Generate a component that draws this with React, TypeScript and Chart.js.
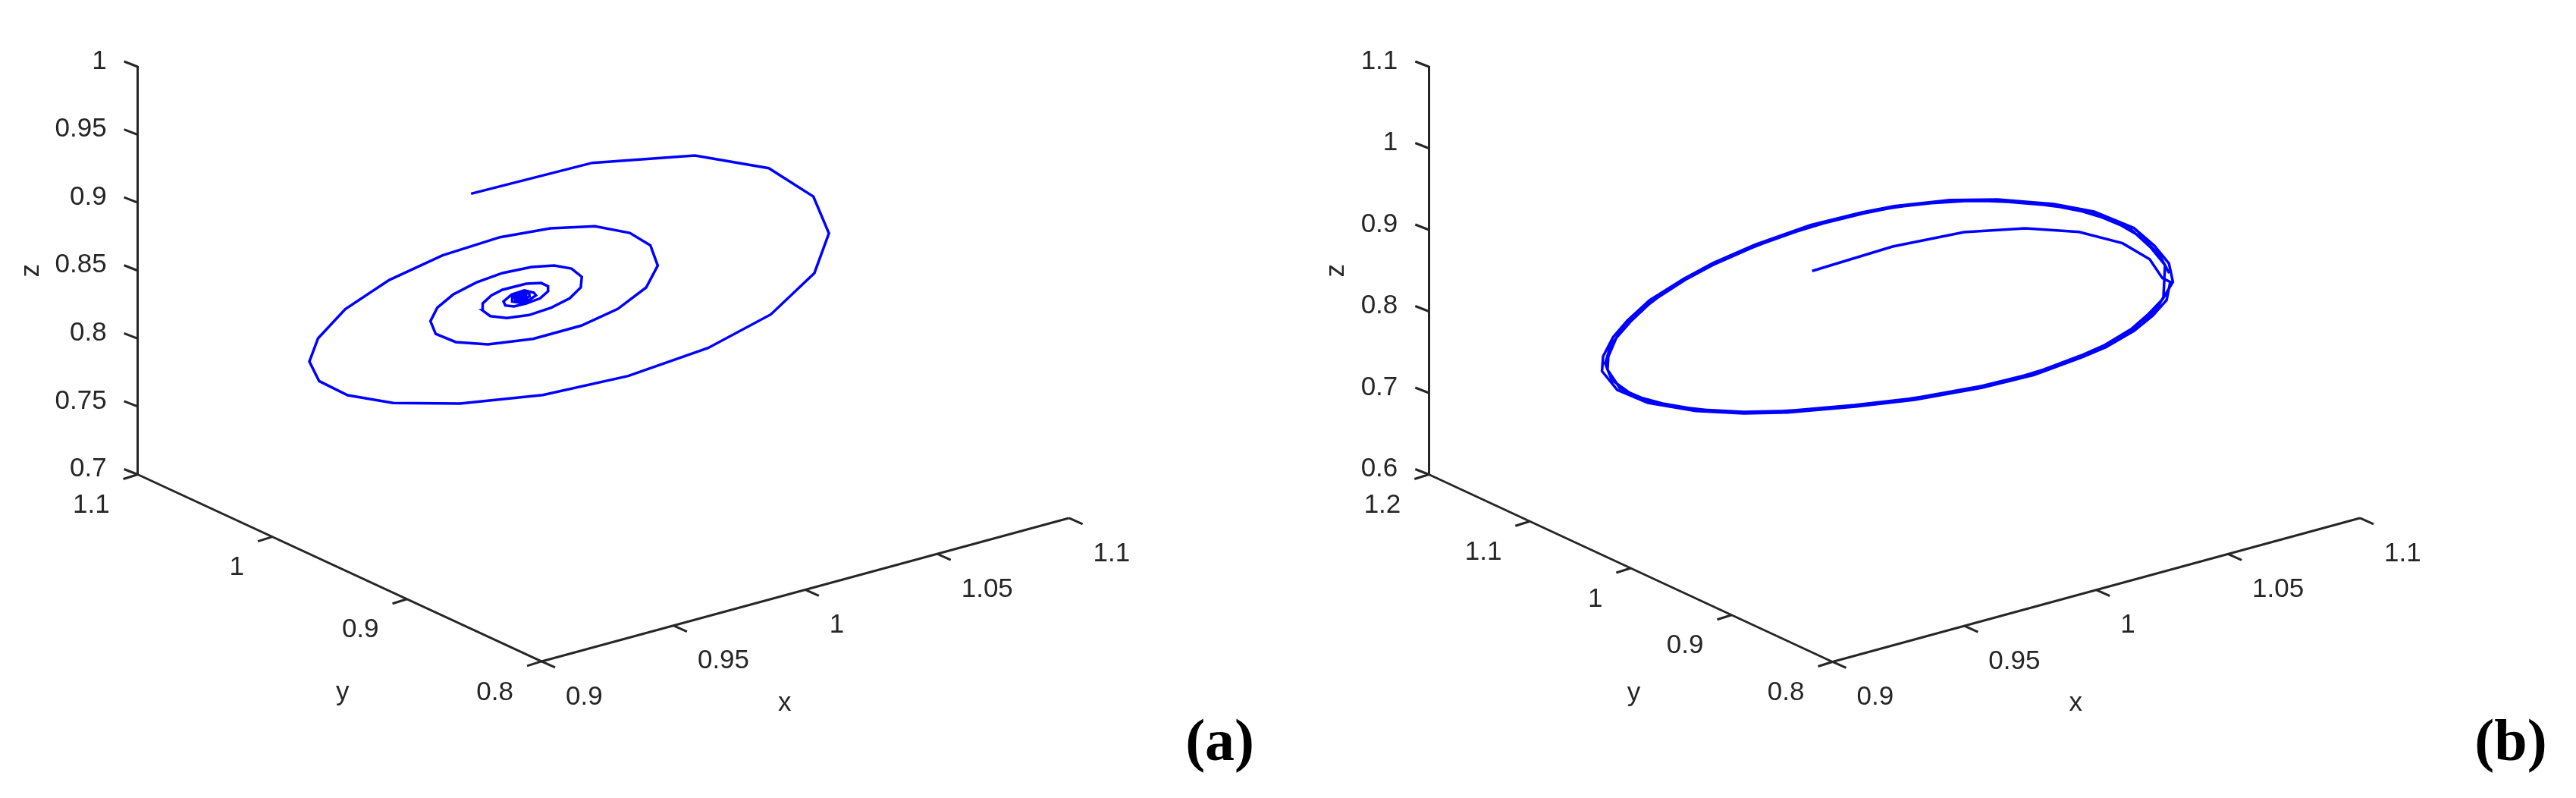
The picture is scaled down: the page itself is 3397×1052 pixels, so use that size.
import React, { useEffect, useRef } from "react";
import { Chart, registerables } from "chart.js";

Chart.register(...registerables);

// ---- Panel (a) ----
const aXTicks = [0.9, 0.95, 1, 1.05, 1.1];
const aYTicks = [1.1, 1, 0.9, 0.8];
const aZTicks = [0.7, 0.75, 0.8, 0.85, 0.9, 0.95, 1];
// trajectory, projected on the picture plane: horizontal in x units, vertical in z units
const aPathU = [
  0.8733, 0.9193, 0.9582, 0.9862, 1.0031, 1.009, 1.0035, 0.987, 0.9632, 0.9329, 0.9005, 0.8691, 0.8438, 0.8265, 0.8157, 0.812, 0.8153, 0.8256, 0.8423, 0.8625, 0.8843, 0.9034, 0.9203, 0.9335, 0.9413, 0.9441, 0.9397, 0.9289, 0.9151, 0.8968, 0.8797, 0.8675, 0.8599, 0.8579, 0.8605, 0.8665, 0.8753, 0.8852, 0.8962, 0.9048, 0.9114, 0.9153, 0.9149, 0.9107, 0.9037, 0.8953, 0.8869, 0.8806, 0.8776, 0.8777, 0.881, 0.8852, 0.8942, 0.8999, 0.9025, 0.9025, 0.8995, 0.8942, 0.8896, 0.8863, 0.8856, 0.8887, 0.8935, 0.8971, 0.8979, 0.8955, 0.8918, 0.8889, 0.8889, 0.8918, 0.8953, 0.8955, 0.8929, 0.8902, 0.8897, 0.8922, 0.8942, 0.8939, 0.8915, 0.8905, 0.8926, 0.8931, 0.8918,
];
const aPathV = [
  0.9066, 0.9293, 0.9347, 0.9254, 0.9045, 0.8774, 0.8482, 0.8178, 0.7931, 0.7725, 0.7585, 0.7522, 0.7526, 0.7583, 0.7687, 0.7831, 0.8002, 0.8216, 0.8431, 0.8612, 0.8746, 0.8811, 0.8826, 0.8777, 0.8686, 0.8537, 0.8376, 0.8218, 0.8095, 0.7998, 0.7957, 0.7974, 0.8035, 0.8128, 0.8227, 0.8324, 0.8413, 0.8482, 0.8526, 0.8537, 0.8515, 0.8454, 0.8376, 0.8296, 0.8227, 0.8173, 0.8151, 0.8165, 0.8208, 0.8258, 0.8318, 0.8359, 0.8404, 0.8409, 0.8385, 0.8348, 0.8296, 0.8258, 0.8236, 0.8244, 0.8273, 0.8324, 0.8355, 0.8338, 0.8318, 0.8286, 0.8264, 0.8273, 0.8307, 0.834, 0.8337, 0.8311, 0.8281, 0.8281, 0.8307, 0.8329, 0.8322, 0.8299, 0.8288, 0.8303, 0.8318, 0.8307, 0.8303,
];

// ---- Panel (b) ----
const bXTicks = [0.9, 0.95, 1, 1.05, 1.1];
const bYTicks = [1.2, 1.1, 1, 0.9, 0.8];
const bZTicks = [0.6, 0.7, 0.8, 0.9, 1, 1.1];
const bPathU = [
  0.8923, 0.9228, 0.9499, 0.9732, 0.9935, 1.01, 1.0203, 1.0251,
  1.0281, 1.0267, 1.0215, 1.0144, 1.0037, 0.9945, 0.9764, 0.9568, 0.9312, 0.9087, 0.883, 0.8664, 0.8482, 0.83, 0.8184, 0.8126, 0.813, 0.8168, 0.8222, 0.8306, 0.8435, 0.8548, 0.8706, 0.8917, 0.9112, 0.9234, 0.9445, 0.9627, 0.9839, 0.9992, 1.0143, 1.0221, 1.0276,
  1.0291, 1.0252, 1.0198, 1.0132, 1.0028, 0.994, 0.9761, 0.9565, 0.9309, 0.9084, 0.883, 0.8664, 0.8485, 0.8306, 0.8196, 0.8147, 0.815, 0.818, 0.8234, 0.8315, 0.8441, 0.8554, 0.8712, 0.8923, 0.9118, 0.9237, 0.9448, 0.9627, 0.9836, 0.9983, 1.0133, 1.0206, 1.0261, 1.0258, 1.0255,
  1.0233, 1.0172, 1.0085, 0.9988, 0.9853, 0.9665, 0.9439, 0.9198, 0.8958, 0.8747, 0.8574, 0.8393, 0.8246, 0.8163, 0.8138, 0.8157, 0.8201, 0.827, 0.8374, 0.8494, 0.863, 0.8814, 0.9017, 0.9175, 0.9341, 0.9537, 0.9732, 0.9913, 1.0063, 1.0176, 1.0241, 1.0277,
];
const bPathV = [
  0.8495, 0.8795, 0.8972, 0.9019, 0.8975, 0.8836, 0.864, 0.8408,
  0.8361, 0.8138, 0.7949, 0.7763, 0.7561, 0.7437, 0.722, 0.7065, 0.6916, 0.6833, 0.6761, 0.6749, 0.678, 0.6879, 0.7037, 0.7267, 0.7446, 0.7685, 0.7887, 0.8135, 0.8398, 0.8594, 0.8817, 0.9059, 0.9214, 0.9291, 0.9366, 0.9372, 0.9316, 0.9223, 0.9022, 0.8805, 0.8588,
  0.8361, 0.815, 0.7967, 0.7781, 0.758, 0.7456, 0.7239, 0.7084, 0.6935, 0.6851, 0.678, 0.6767, 0.6798, 0.6898, 0.7049, 0.7285, 0.7446, 0.7673, 0.7874, 0.8122, 0.8386, 0.8581, 0.8805, 0.9047, 0.9202, 0.9279, 0.9353, 0.9353, 0.9298, 0.9205, 0.9003, 0.8786, 0.8569, 0.8361, 0.8175,
  0.8051, 0.7865, 0.7671, 0.7508, 0.7338, 0.7152, 0.7, 0.6883, 0.6806, 0.6764, 0.6773, 0.6838, 0.6965, 0.716, 0.7361, 0.7562, 0.7779, 0.8004, 0.826, 0.8489, 0.8699, 0.8932, 0.913, 0.9246, 0.9322, 0.9361, 0.9334, 0.926, 0.9113, 0.8903, 0.8686, 0.8469,
];

const INK = "#262626";
const BLUE = "#0000ff";
const FONT = '"Liberation Sans", Arial, sans-serif';
const FONT_SIZE = 35;

type Panel = {
  letter: string;
  left: number;
  width: number;
  areaLeft: number;
  areaRight: number;
  titlePad: number;
  xTicks: number[];
  yTicks: number[];
  zTicks: number[];
  pathU: number[];
  pathV: number[];
  uPerY: number;
  vPerY: number;
  vPerX: number;
};

const panels: Panel[] = [
  {
    letter: "(a)",
    left: 0,
    width: 1700,
    areaLeft: 181.6,
    areaRight: 1409.6,
    titlePad: 20,
    xTicks: aXTicks,
    yTicks: aYTicks,
    zTicks: aZTicks,
    pathU: aPathU,
    pathV: aPathV,
    uPerY: 0.5103,
    vPerY: 0.4585,
    vPerX: 0.5273,
  },
  {
    letter: "(b)",
    left: 1700,
    width: 1697,
    areaLeft: 184.3,
    areaRight: 1412,
    titlePad: 41,
    xTicks: bXTicks,
    yTicks: bYTicks,
    zTicks: bZTicks,
    pathU: bPathU,
    pathV: bPathV,
    uPerY: 0.3826,
    vPerY: 0.5744,
    vPerX: 0.8814,
  },
];

function makeChart(canvas: HTMLCanvasElement, p: Panel) {
  const xMin = Math.min(...p.xTicks);
  const xMax = Math.max(...p.xTicks);
  const yMin = Math.min(...p.yTicks);
  const yMax = Math.max(...p.yTicks);
  const zMin = Math.min(...p.zTicks);
  const zMax = Math.max(...p.zTicks);
  const uMin = xMin - (yMax - yMin) * p.uPerY;

  const floorPoint = (c: any, x: number, y: number) => ({
    px: c.scales.x.getPixelForValue(x - (y - yMin) * p.uPerY),
    py: c.scales.y.getPixelForValue(zMin - (yMax - y) * p.vPerY + (x - xMin) * p.vPerX),
  });

  const axes3d = {
    id: "axes3d",
    afterDraw(c: any) {
      const ctx = c.ctx;
      ctx.save();
      ctx.strokeStyle = INK;
      ctx.fillStyle = INK;
      ctx.lineWidth = 3;
      ctx.font = `${FONT_SIZE}px ${FONT}`;
      const seg = (a: number, b: number, d: number, e: number) => {
        ctx.beginPath();
        ctx.moveTo(a, b);
        ctx.lineTo(d, e);
        ctx.stroke();
      };
      // floor axes
      const o = floorPoint(c, xMin, yMax);
      const s = floorPoint(c, xMin, yMin);
      const e = floorPoint(c, xMax, yMin);
      seg(o.px, o.py, s.px, s.py);
      seg(s.px, s.py, e.px, e.py);
      // z tick marks
      const ax = c.scales.x.getPixelForValue(uMin);
      p.zTicks.forEach((z) => {
        const py = c.scales.y.getPixelForValue(z);
        seg(ax, py, ax - 18, py - 7);
      });
      // y ticks
      ctx.textBaseline = "middle";
      ctx.textAlign = "right";
      p.yTicks.forEach((y) => {
        const t = floorPoint(c, xMin, y);
        seg(t.px, t.py, t.px - 19, t.py + 6);
        ctx.fillText(String(y), t.px - 37, t.py + 41);
      });
      // x ticks
      ctx.textAlign = "left";
      p.xTicks.forEach((x) => {
        const t = floorPoint(c, x, yMin);
        seg(t.px, t.py, t.px + 18, t.py + 8);
        ctx.fillText(String(x), t.px + 32, t.py + 47);
      });
      // axis titles
      ctx.textAlign = "center";
      const xm = floorPoint(c, (xMin + xMax) / 2, yMin);
      ctx.fillText("x", xm.px - 27, xm.py + 150);
      const ym = floorPoint(c, xMin, (yMin + yMax) / 2);
      ctx.fillText("y", ym.px + 4, ym.py + 165);
      // panel letter
      ctx.font = `bold 78px "Liberation Serif", serif`;
      ctx.fillStyle = "#000000";
      ctx.fillText(p.letter, c.chartArea.right + 199, 982);
      ctx.restore();
    },
  };

  return new Chart(canvas, {
    type: "scatter",
    data: {
      datasets: [
        {
          data: p.pathU.map((u, i) => ({ x: u, y: p.pathV[i] })),
          showLine: true,
          borderColor: BLUE,
          backgroundColor: BLUE,
          borderWidth: 3.5,
          pointRadius: 0,
          tension: 0,
          clip: false,
        },
      ],
    },
    options: {
      responsive: false,
      animation: false,
      events: [],
      layout: {
        padding: { left: 0, right: p.width - p.areaRight, top: 88, bottom: 1052 - 625.5 },
      },
      plugins: { legend: { display: false }, tooltip: { enabled: false } },
      scales: {
        x: { type: "linear", display: false, min: uMin, max: xMax },
        y: {
          type: "linear",
          position: "left",
          min: zMin,
          max: zMax,
          afterBuildTicks: (axis: any) => {
            axis.ticks = p.zTicks.map((value) => ({ value }));
          },
          afterFit: (axis: any) => {
            axis.width = p.areaLeft;
          },
          grid: { display: false },
          border: { display: true, color: INK, width: 3 },
          ticks: {
            autoSkip: false,
            maxRotation: 0,
            minRotation: 0,
            padding: 33,
            labelOffset: -7,
            color: INK,
            font: { family: FONT, size: FONT_SIZE },
            callback: (v: any) => String(v),
          },
          title: {
            display: true,
            text: "z",
            color: INK,
            font: { family: FONT, size: FONT_SIZE },
            padding: { top: p.titlePad, bottom: 0 },
          },
        },
      },
    },
    plugins: [axes3d],
  } as any);
}

function PanelChart({ panel }: { panel: Panel }) {
  const ref = useRef<HTMLCanvasElement | null>(null);
  useEffect(() => {
    const chart = makeChart(ref.current as HTMLCanvasElement, panel);
    return () => chart.destroy();
  }, [panel]);
  return (
    <canvas
      ref={ref}
      width={panel.width}
      height={1052}
      style={{ position: "absolute", left: panel.left, top: 0, width: panel.width, height: 1052, display: "block" }}
    />
  );
}

export default function App() {
  return (
    <div style={{ position: "fixed", left: 0, top: 0, width: 3397, height: 1052, background: "#fff", overflow: "hidden" }}>
      {panels.map((p) => (
        <PanelChart key={p.letter} panel={p} />
      ))}
    </div>
  );
}
